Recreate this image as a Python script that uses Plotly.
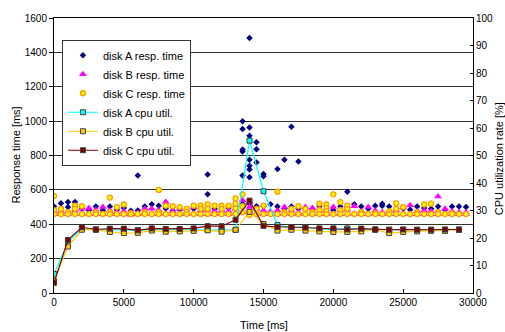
import plotly.graph_objects as go

# ---- data -------------------------------------------------------------
resp_t = [0, 500, 1000, 1500, 2000, 2500, 3000, 3500, 4000, 4500,
          5000, 5500, 6000, 6500, 7000, 7500, 8000, 8500, 9000, 9500,
          10000, 10500, 11000, 11500, 12000, 12500, 13000, 13500, 14000, 14500,
          15000, 15500, 16000, 16500, 17000, 17500, 18000, 18500, 19000, 19500,
          20000, 20500, 21000, 21500, 22000, 22500, 23000, 23500, 24000, 24500,
          25000, 25500, 26000, 26500, 27000, 27500, 28000, 28500, 29000, 29500]

resp_a = [[503], [522, 495], [529, 500], [529, 490], [490], [482], [503], [482], [503], [485],
          [495], [478], [683, 480], [503], [516], [508, 480], [492], [480], [485], [478],
          [490], [485], [690, 574, 495], [490], [485], [495], [505],
          [1000, 954, 835, 823, 683, 520], [1483, 963, 915, 775, 741, 718, 673, 520],
          [877, 836, 760, 505],
          [692, 679, 503], [516], [721, 503], [775, 490], [967, 503], [765, 490], [485], [490], [503], [485],
          [482], [503], [589, 495], [516], [503], [490], [508], [520, 508], [503], [485],
          [490], [485], [503], [495], [490], [503], [485], [503], [503], [500]]

resp_b = [[470, 458], [475, 460], [470, 458], [480, 462], [490, 460], [495, 462], [485, 458], [500, 460],
          [480, 458], [470, 460],
          [475, 458], [465, 455], [465, 458], [490, 462], [490, 460], [480, 458], [530, 462], [475, 458],
          [490, 460], [470, 458],
          [500, 462], [480, 458], [485, 460], [475, 458], [480, 462], [475, 458], [490, 462], [540, 470],
          [530, 500], [490, 462],
          [480, 460], [475, 458], [480, 460], [500, 462], [480, 458], [470, 460], [500, 462], [495, 460],
          [480, 458], [475, 460],
          [500, 462], [480, 458], [485, 460], [505, 462], [475, 458], [500, 460], [480, 458], [470, 460],
          [475, 458], [480, 460],
          [500, 462], [510, 460], [475, 458], [480, 460], [475, 458], [562, 460], [490, 462], [475, 458],
          [470, 460], [470, 458]]

resp_c = [[564, 482, 459], [490, 459], [470, 459], [508, 490, 459], [505, 459], [459], [470, 459], [459],
          [555, 470, 459], [500, 459],
          [515, 459], [465, 459], [459], [470, 459], [459], [600, 470, 459], [508, 459], [505, 459],
          [500, 459], [490, 470, 459],
          [508, 459], [508, 490, 459], [516, 490, 459], [508, 459], [508, 490, 459], [508, 459],
          [551, 520, 493, 459], [574, 505, 470], [470, 455], [490, 459],
          [508, 459], [459], [589, 459], [470, 459], [490, 459], [505, 459], [490, 459], [470, 459],
          [520, 482, 459], [515, 495, 475, 459],
          [574, 459], [529, 482, 459], [508, 490, 459], [459], [470, 459], [459], [465, 459], [459],
          [475, 459], [522, 490, 459],
          [500, 459], [459], [470, 459], [515, 459], [520, 459], [470, 459], [459], [465, 459], [459], [459]]

cpu_t = [0, 1000, 2000, 3000, 4000, 5000, 6000, 7000, 8000, 9000,
         10000, 11000, 12000, 13000, 14000, 15000, 16000, 17000, 18000, 19000,
         20000, 21000, 22000, 23000, 24000, 25000, 26000, 27000, 28000, 29000]

cpu_a = [6.9, 18.5, 23.5, 23.0, 23.0, 23.0, 22.8, 23.2, 23.0, 23.0,
         23.0, 23.0, 23.0, 22.9, 55.4, 37.0, 24.7, 23.8, 24.0, 23.3,
         23.0, 23.5, 23.3, 23.1, 23.0, 23.0, 23.0, 23.0, 23.0, 23.0]
cpu_b = [4.4, 16.9, 23.0, 23.1, 22.2, 21.8, 21.9, 22.7, 22.3, 22.4,
         22.6, 22.8, 22.3, 23.0, 29.5, 25.1, 22.7, 23.0, 22.7, 22.4,
         22.2, 22.2, 22.4, 23.0, 21.8, 22.2, 22.4, 22.6, 22.6, 23.0]
cpu_c = [3.7, 19.3, 23.9, 23.1, 23.4, 23.4, 22.8, 23.5, 23.3, 23.3,
         23.5, 24.3, 24.3, 26.6, 33.6, 24.4, 24.0, 24.0, 23.8, 23.5,
         23.5, 23.1, 23.4, 23.1, 23.0, 23.1, 23.0, 23.0, 23.1, 23.1]


def expand(cols):
    xs, ys = [], []
    for t, vals in zip(resp_t, cols):
        for v in vals:
            xs.append(t)
            ys.append(v)
    return xs, ys


FONT = "Liberation Sans, Arial, sans-serif"
fig = go.Figure()

xa, ya = expand(resp_a)
fig.add_trace(go.Scatter(x=xa, y=ya, mode="markers", name="disk A resp. time",
                         marker=dict(symbol="diamond", size=5, color="#000080",
                                     line=dict(width=0))))
xb, yb = expand(resp_b)
fig.add_trace(go.Scatter(x=xb, y=yb, mode="markers", name="disk B resp. time",
                         marker=dict(symbol="triangle-up", size=7, color="#FF00FF",
                                     line=dict(width=0))))
xc, yc = expand(resp_c)
fig.add_trace(go.Scatter(x=xc, y=yc, mode="markers", name="disk C resp. time",
                         marker=dict(symbol="circle", size=5, color="#FFFF00",
                                     line=dict(width=1.3, color="#FF9900"))))

fig.add_trace(go.Scatter(x=cpu_t, y=cpu_a, mode="lines+markers", name="disk A cpu util.",
                         yaxis="y2", line=dict(color="#00FFFF", width=1.2),
                         marker=dict(symbol="square", size=5, color="#00FFFF",
                                     line=dict(width=1, color="#404040"))))
fig.add_trace(go.Scatter(x=cpu_t, y=cpu_b, mode="lines+markers", name="disk B cpu util.",
                         yaxis="y2", line=dict(color="#FFCC00", width=1.2),
                         marker=dict(symbol="square", size=5, color="#FFCC00",
                                     line=dict(width=1, color="#404040"))))
fig.add_trace(go.Scatter(x=cpu_t, y=cpu_c, mode="lines+markers", name="disk C cpu util.",
                         yaxis="y2", line=dict(color="#800000", width=1.2),
                         marker=dict(symbol="square", size=5, color="#800000",
                                     line=dict(width=1, color="#404040"))))

fig.update_layout(
    width=505, height=332,
    margin=dict(l=54, r=29, t=15, b=39),
    paper_bgcolor="white", plot_bgcolor="white",
    font=dict(family=FONT, size=10, color="#000"),
    showlegend=True,
    legend=dict(x=0.019, y=0.921, xanchor="left", yanchor="top",
                bgcolor="white", bordercolor="#333", borderwidth=1,
                font=dict(family=FONT, size=11, color="#000"),
                itemwidth=30, tracegroupgap=0),
    xaxis=dict(range=[0, 30000], dtick=5000, tickformat="d",
               showgrid=False, zeroline=False,
               showline=True, linecolor="#000", linewidth=1, mirror=True,
               ticks="inside", ticklen=4, tickcolor="#000",
               tickfont=dict(size=10)),
    yaxis=dict(range=[0, 1600], dtick=200, tickformat="d",
               showgrid=True, gridcolor="#333", gridwidth=1, zeroline=False,
               showline=True, linecolor="#000", linewidth=1,
               ticks="outside", ticklen=4, tickcolor="#000",
               tickfont=dict(size=10)),
    yaxis2=dict(range=[0, 100], dtick=10, overlaying="y", side="right",
                showgrid=False, zeroline=False,
                showline=True, linecolor="#000", linewidth=1,
                ticks="inside", ticklen=3, tickcolor="#000",
                tickfont=dict(size=10)),
    annotations=[
        dict(text="Time [ms]", xref="paper", yref="paper", x=0.5, y=-0.115,
             xanchor="center", yanchor="middle", showarrow=False,
             font=dict(size=11)),
        dict(text="Response time [ms]", xref="paper", yref="paper", x=-0.093, y=0.5,
             xanchor="center", yanchor="middle", textangle=-90, showarrow=False,
             font=dict(size=11)),
        dict(text="CPU utilization rate [%]", xref="paper", yref="paper", x=1.062, y=0.49,
             xanchor="center", yanchor="middle", textangle=-90, showarrow=False,
             font=dict(size=11)),
    ],
)

fig.write_html("out.html", config={"displayModeBar": False},
               post_script="document.body.style.margin='0';document.body.style.overflow='hidden';")
